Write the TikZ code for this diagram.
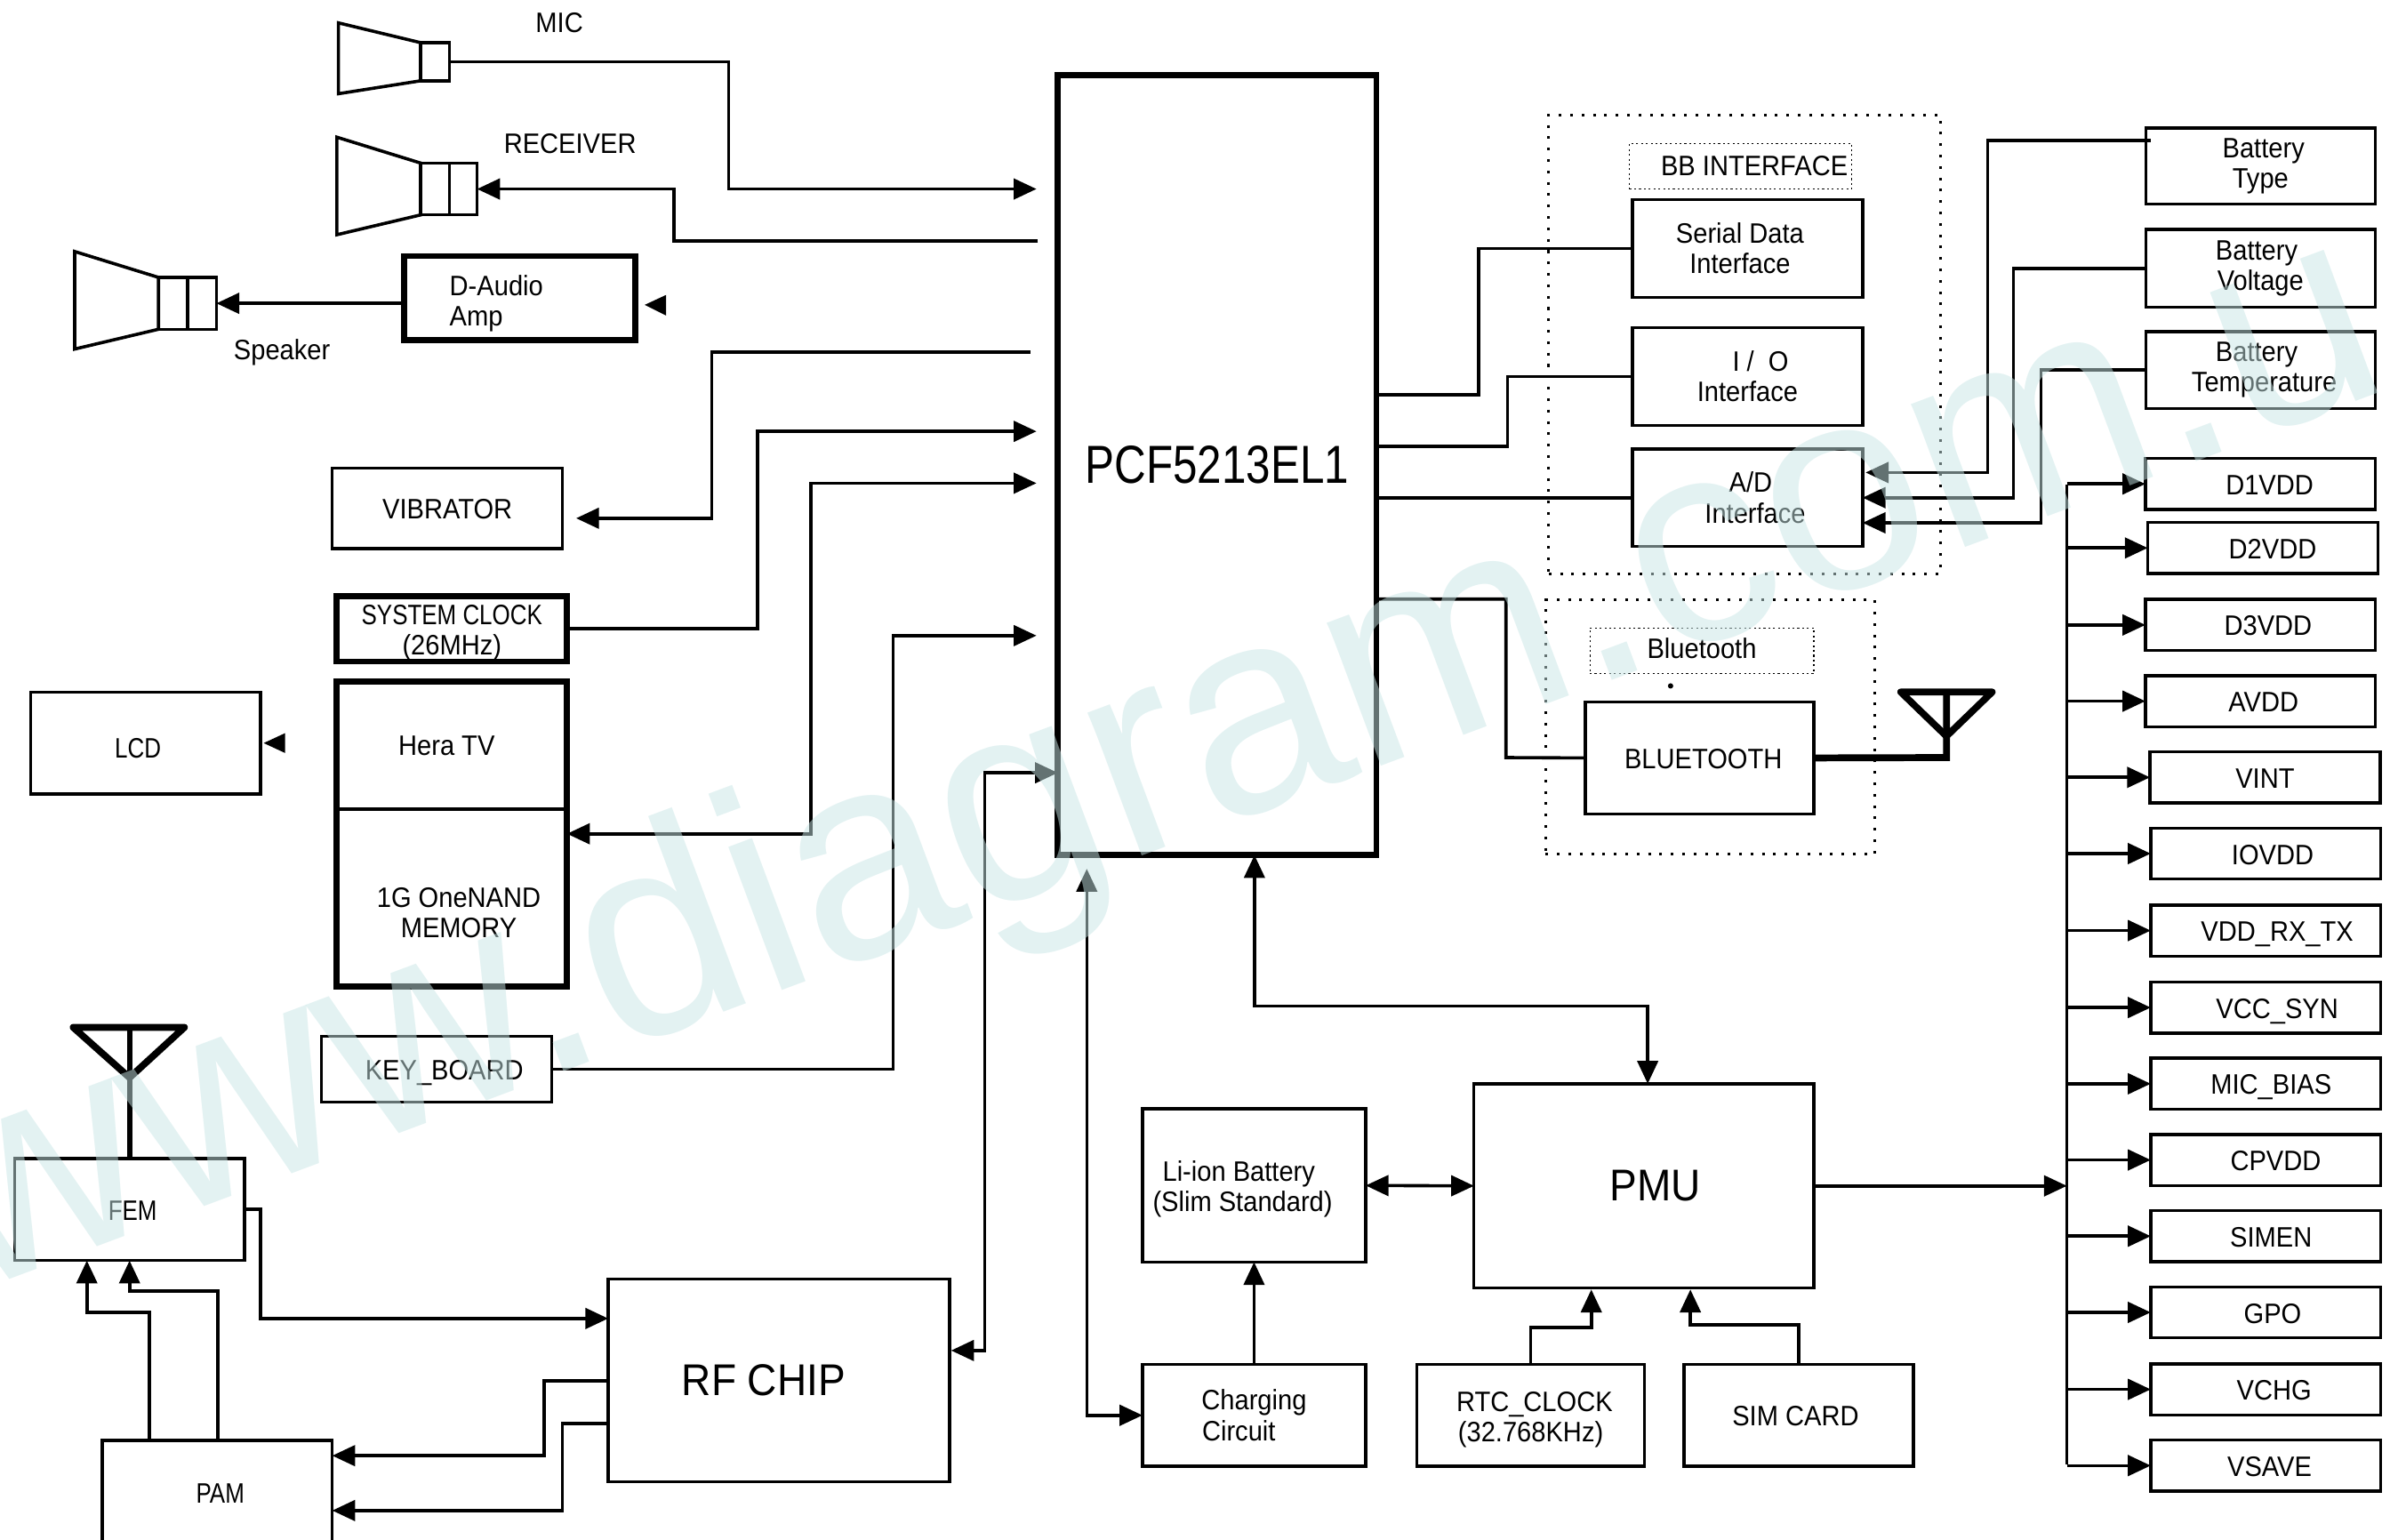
\documentclass[tikz,border=0pt]{standalone}
\usepackage{fontspec}
\setmainfont[FakeStretch=0.92]{Liberation Sans}
\newfontface\chipface[FakeStretch=0.82]{Liberation Sans}
\newfontface\markface[FakeStretch=0.995]{Liberation Sans}
\usepackage{tikz}
\usetikzlibrary{arrows.meta,positioning,calc}
\definecolor{markcol}{rgb}{0.78,0.9,0.9}
\newcommand{\nudge}{\rule{0pt}{10.5pt}}
\tikzset{
  wire/.style={line width=0.042cm},
  heavy/.style={line width=0.09cm},
  blk/.style={draw, line width=0.04cm, inner sep=0pt, outer sep=0pt, align=center},
  thickblk/.style={blk, line width=0.08cm},
  oneline/.style={text height=0.28cm, text depth=0pt},
  pwrblk/.style={blk, oneline, minimum width=3.02cm, minimum height=0.67cm},
  dotblk/.style={draw, line width=0.035cm, dash pattern=on 1pt off 3.25pt, inner sep=0pt, outer sep=0pt},
  tagblk/.style={draw, line width=0.012cm, dash pattern=on 0.7pt off 1.1pt, inner sep=0pt, outer sep=0pt, align=center},
  txt/.style={inner sep=0pt, outer sep=0pt, align=center}
}
\begin{document}
\begin{tikzpicture}[>={Triangle[length=0.3cm,width=0.27cm]}, x=0.02cm, y=-0.02cm,
    every node/.append style={font=\fontsize{10.5}{11.34}\selectfont}]
  \useasboundingbox (0,0) rectangle (1568,1010);
  \clip (0,0) rectangle (1568,1010);

  % processor
  \node[thickblk, minimum width=4.18cm, minimum height=10.24cm, font=\chipface\fontsize{20}{22}\selectfont] (cpu) at (798.5,305) {PCF5213EL1};

  % audio parts
  \draw[wire] (222,15) -- (276,28) -- (276,53) -- (222,61.5) -- cycle;
  \node[blk, minimum width=0.38cm, minimum height=0.5cm] (mic) at (285.5,40.5) {};
  \node[txt] (miclabel) at (367,15) {MIC};
  \draw[wire] (221,90) -- (276,107) -- (276,141) -- (221,154) -- cycle;
  \node[blk, minimum width=0.38cm, minimum height=0.68cm] (rcvl) at (285.5,124) {};
  \node[blk, minimum width=0.36cm, minimum height=0.68cm, right=0pt of rcvl] (rcvr) {};
  \node[txt] (rcvlabel) at (374,94) {RECEIVER};
  \draw[wire] (49,165) -- (104,182) -- (104,216) -- (49,229) -- cycle;
  \node[blk, minimum width=0.38cm, minimum height=0.68cm] (spkl) at (113.5,199) {};
  \node[blk, minimum width=0.38cm, minimum height=0.68cm, right=0pt of spkl] (spkr) {};
  \node[txt] (spklabel) at (185,231) {Speaker};
  \node[thickblk, minimum width=3.04cm, minimum height=1.1cm, text width=1.84cm, align=left] (amp) at (341,195.5) {\rule{0pt}{11.5pt}D-Audio\\Amp};
  \fill (437,193.5) -- (423,200) -- (437,207) -- cycle;

  % left column
  \node[blk, oneline, minimum width=3.02cm, minimum height=1.06cm] (vib) at (293.5,333.5) {VIBRATOR};
  \node[thickblk, minimum width=3.02cm, minimum height=0.86cm] (sysclk) at (296.5,412.5) {\nudge{\chipface SYSTEM CLOCK}\\(26MHz)};
  \node[blk, text height=0.38cm, text depth=0pt, minimum width=3.02cm, minimum height=1.34cm] (lcd) at (95.5,487.5) {\chipface LCD\hspace*{0.2cm}};
  \fill (187,481) -- (173,487.5) -- (187,494) -- cycle;
  \node[thickblk, minimum width=3.02cm, minimum height=4cm] (tvmem) at (296.5,547) {};
  \node[txt] (hera) at (293,489) {Hera TV};
  \node[txt] (onenand) at (301,599) {1G OneNAND\\MEMORY};
  \coordinate (memsplit) at (296,531);
  \draw[wire] (tvmem.west |- memsplit) -- (tvmem.east |- memsplit);
  \node[blk, oneline, minimum width=3.02cm, minimum height=0.86cm] (keys) at (286.5,701.5) {\hspace*{0.2cm}KEY\_BOARD};

  % radio parts
  \node[blk, oneline, minimum width=3.02cm, minimum height=1.34cm] (fem) at (85,793.5) {\chipface\hspace*{0.08cm}FEM};
  \node[blk, oneline, minimum width=3.02cm, minimum height=1.36cm] (pam) at (142.5,979) {\chipface\hspace*{0.08cm}PAM};
  \node[blk, minimum width=4.48cm, minimum height=2.66cm, font=\fontsize{16.6}{18}\selectfont] (rf) at (511,905.5) {RF CHIP\hspace*{0.4cm}};
  \draw[heavy, line join=round] (48,674) -- (121,674) -- (85,707) -- cycle;
  \draw[heavy, line width=0.07cm] (fem.north) -- (85,674);

  % interface group
  \node[dotblk, minimum width=5.14cm, minimum height=6.02cm] (bbzone) at (1144.5,226) {};
  \node[tagblk, minimum width=2.92cm, minimum height=0.6cm] (bbtag) at (1142,109) {\hspace*{0.36cm}BB INTERFACE};
  \node[blk, minimum width=3.02cm, minimum height=1.28cm] (serial) at (1146.5,163) {Serial Data\hspace*{0.2cm}\\Interface\hspace*{0.2cm}};
  \node[blk, minimum width=3.02cm, minimum height=1.28cm] (ioif) at (1146.5,247) {\hspace*{0.34cm}I /\ \ O\\Interface};
  \node[blk, minimum width=3.02cm, minimum height=1.28cm] (adif) at (1146.5,326.5) {\hspace*{0.08cm}A/D\\\hspace*{0.2cm}Interface};

  % bluetooth group
  \node[dotblk, minimum width=4.32cm, minimum height=3.34cm] (btzone) at (1122,477) {};
  \node[tagblk, text height=0.2cm, text depth=0pt, minimum width=2.94cm, minimum height=0.6cm] (bttag) at (1116.5,427) {Bluetooth};
  \fill (1096,450) circle (0.035cm);
  \node[blk, oneline, minimum width=3cm, minimum height=1.47cm] (bt) at (1115,497.25) {\hspace*{0.1cm}BLUETOOTH};
  \coordinate (btant) at (1277,497);
  \draw[heavy, line join=round] (1247,454) -- (1307,454) -- (1277,483) -- cycle;
  \draw[heavy] (bt.east) -- (btant) -- (1277,454);

  % battery sense
  \node[blk, minimum width=3.01cm, minimum height=1cm] (battype) at (1483,109) {\hspace*{0.08cm}Battery\\Type};
  \node[blk, minimum width=3.01cm, minimum height=1.02cm] (batvol) at (1483,176) {Battery\hspace*{0.1cm}\\Voltage};
  \node[blk, minimum width=3.01cm, minimum height=1.01cm] (battmp) at (1483,242.75) {Battery\hspace*{0.1cm}\\\hspace*{0.1cm}Temperature};

  % power parts
  \node[blk, minimum width=2.93cm, minimum height=2.01cm] (liion) at (822.75,777.75) {\nudge Li-ion Battery\hspace*{0.4cm}\\(Slim Standard)\hspace*{0.3cm}};
  \node[blk, minimum width=2.93cm, minimum height=1.34cm] (chg) at (822.75,928.5) {Charging\\Circuit\hspace*{0.4cm}};
  \node[blk, minimum width=4.46cm, minimum height=2.68cm, font=\fontsize{16.6}{18}\selectfont] (pmu) at (1078.5,778) {\hspace*{0.3cm}PMU};
  \node[blk, minimum width=2.99cm, minimum height=1.34cm] (rtc) at (1004.25,928.5) {\nudge\hspace*{0.1cm}RTC\_CLOCK\\(32.768KHz)};
  \node[blk, oneline, minimum width=3.01cm, minimum height=1.34cm] (sim) at (1180,928.5) {SIM CARD\hspace*{0.08cm}};

  % free ends
  \coordinate (micin) at (680,124);
  \coordinate (rcvout) at (681,158);
  \coordinate (vibout) at (676,231);
  \coordinate (clkin) at (680,283);
  \coordinate (memin) at (680,317);
  \coordinate (keyin) at (680,417);
  \coordinate (rfport) at (694,507);
  \coordinate (rfin) at (624,886);
  \coordinate (vibin) at (378,340);
  \coordinate (chgport) at (713,570);
  \coordinate (pmuport) at (823,561);
  \coordinate (pmutop) at (1081,711);
  \coordinate (rtcin) at (1044,846);
  \coordinate (simin) at (1109,846);
  \coordinate (batstart) at (1411,92);
  \coordinate (adina) at (1224,310);
  \coordinate (adinb) at (1222,343);
  \coordinate (cpubt) at (903,393);
  \coordinate (railtop) at (1356,318);
  \coordinate (railend) at (1356,961);

  % processor left side
  \draw[wire,->] (mic.east) -| (478,124) -- (micin);
  \draw[wire,->] (rcvout) -| (442,124) -- (rcvr.east);
  \draw[wire,->] (amp.west |- spkr.east) -- (spkr.east);
  \draw[wire,->] (vibout) -| (467,340) -- (vibin);
  \draw[wire,->] (sysclk.east) -| (497,283) -- (clkin);
  \draw[wire,<->] (memin) -| (532,547) -- (tvmem.east);
  \draw[wire,->] (keys.east) -| (586,417) -- (keyin);
  \draw[wire,<->] (rfport) -| (646,886) -- (rfin);

  % processor right side
  \draw[wire] (903,259) -| (970,163) -- (serial.west);
  \draw[wire] (903,293) -| (989,247) -- (ioif.west);
  \draw[wire] (adif.west -| cpu.east) -- (adif.west);
  \draw[wire] (cpubt) -| (988,497) -- (bt.west);
  \draw[wire,->] (batstart) -| (1304,310) -- (adina);
  \draw[wire,->] (batvol.west) -| (1321,326.5) -- (adif.east);
  \draw[wire,->] (battmp.west) -| (1339,343) -- (adinb);

  % radio side
  \draw[wire,->] (fem.east) -| (171,865) -- (rf.west |- 0,865);
  \draw[wire,->] (399,906) -| (357,955) -- (pam.east |- 0,955);
  \draw[wire,->] (399,934) -| (369,991) -- (pam.east |- 0,991);
  \draw[wire,->] (98,945) |- (57,861) -- (fem.south -| 57,0);
  \draw[wire,->] (143,945) |- (85,847) -- (fem.south);

  % power side
  \draw[wire,<->] (pmuport) -- (823,660) -| (pmutop);
  \draw[wire,<->] (chgport) |- (chg.west);
  \draw[wire,->] (chg.north) -- (liion.south);
  \draw[wire,<->] (liion.east) -- (pmu.west);
  \draw[wire,->] (rtc.north) -- ++(0,-24) -| (rtcin);
  \draw[wire,->] (sim.north) -- ++(0,-26) -| (simin);
  \draw[wire,->] (pmu.east) -- (railtop |- pmu.east);
  \draw[wire] (railtop) -- (railend);

  % supply rails
  \foreach \nm/\xc/\yc/\lab/\dx in {d1vdd/1483/317.5/D1VDD/0.24, d2vdd/1484.5/359.5/D2VDD/0.26,
      d3vdd/1483/410/D3VDD/0.2, avdd/1483/460/AVDD/0.08, vint/1486/510/VINT/0,
      iovdd/1486.5/560/IOVDD/0.18, vddrx/1486.5/610.5/VDD\_RX\_TX/0.3, vccsyn/1486.5/661/VCC\_SYN/0.3,
      micbias/1486.5/711/MIC\_BIAS/0.14, cpvdd/1486.5/761/CPVDD/0.26, simen/1486.5/811/SIMEN/0.14,
      gpo/1486.5/861/GPO/0.18, vchg/1486.5/911.5/VCHG/0.22, vsave/1486.5/961.5/VSAVE/0.1}{
    \node[pwrblk] (\nm) at (\xc,\yc) {\hspace*{\dx cm}\lab};
    \draw[wire,->] (railtop |- \nm.west) -- (\nm.west);
  }

  % site mark over everything
  \node[anchor=base west, inner sep=0pt, rotate=20.5, text=markcol, opacity=0.5, text opacity=0.5,
    font=\markface\fontsize{108}{110}\selectfont] (sitemark) at (-20,849) {www.diagram.com.u};
\end{tikzpicture}
\end{document}
